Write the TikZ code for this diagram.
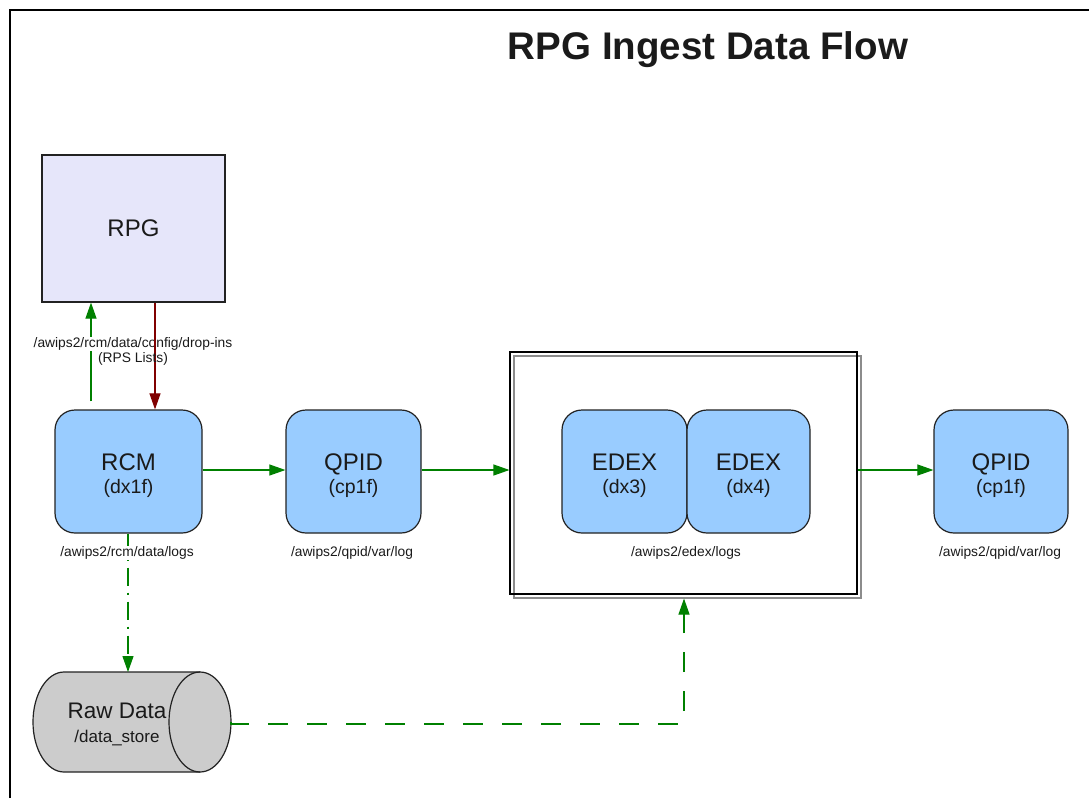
\documentclass[tikz,border=0pt]{standalone}
\usepackage{fontspec}
\setmainfont{Liberation Sans}
\usetikzlibrary{arrows.meta,calc}
\definecolor{boxblue}{HTML}{99CCFF}
\definecolor{lav}{HTML}{E6E6FA}
\definecolor{cylgray}{HTML}{CCCCCC}
\definecolor{flowgreen}{HTML}{008000}
\definecolor{flowred}{HTML}{800000}
\definecolor{outline}{HTML}{222222}
\definecolor{txt}{HTML}{1A1A1A}
\tikzset{
  blockbox/.style={draw=outline, line width=1.2pt, fill=boxblue, rounded corners=20pt,
    minimum height=123pt, align=center, inner sep=0pt, text=txt, font=\fontsize{24}{23}\selectfont},
  pathlabel/.style={font=\fontsize{13.8}{15}\selectfont, inner sep=1pt, text=txt},
  gflow/.style={draw=flowgreen, line width=1.1pt, -{Triangle[length=16pt,width=11pt]}},
  rflow/.style={draw=flowred, line width=1.1pt, -{Triangle[length=16pt,width=11pt]}},
}
\newcommand{\twolines}[2]{\rule{0pt}{25pt}#1\\{\fontsize{19.5}{23}\selectfont #2}}
\begin{document}
\begin{tikzpicture}[x=1pt,y=-1pt]
\useasboundingbox (0,0) rectangle (1089,798);
% frame
\draw[line width=1.5pt] (10,798) -- (10,10) -- (1089,10);
% title
\node[text=txt] (title) at (708,50) {\bfseries\fontsize{38.5}{42}\selectfont RPG Ingest Data Flow};
% RPG
\node[draw=outline, line width=1.2pt, fill=lav, minimum width=183pt, minimum height=147pt, text=txt, font=\fontsize{24}{26}\selectfont] (rpg) at (133.5,228.5) {RPG};
% group box
\node[draw=black!45, line width=1.1pt, minimum width=347pt, minimum height=242pt] (groupshadow) at (687.5,477) {};
\node[draw=black, line width=1.1pt, minimum width=347pt, minimum height=242pt] (group) at (683.5,473) {};
% blocks
\node[blockbox, minimum width=147pt] (rcm) at (128.5,471.5) {\twolines{RCM}{(dx1f)}};
\node[blockbox, minimum width=135pt] (qpid1) at (353.5,471.5) {\twolines{QPID}{(cp1f)}};
\node[blockbox, minimum width=125pt] (edex1) at (624.5,471.5) {\twolines{EDEX}{(dx3)}};
\node[blockbox, minimum width=123pt] (edex2) at (748.5,471.5) {\twolines{EDEX}{(dx4)}};
\node[blockbox, minimum width=134pt] (qpid2) at (1001,471.5) {\twolines{QPID}{(cp1f)}};
% path labels under blocks
\node[pathlabel] (qpid1log) at (352,553) {/awips2/qpid/var/log};
\node[pathlabel] (edexlog) at (686,553) {/awips2/edex/logs};
\node[pathlabel] (qpid2log) at (1000,553) {/awips2/qpid/var/log};
% RPG <-> RCM
\draw[gflow] ([xshift=-37.5pt,yshift=8pt]rcm.north) coordinate (g0) -- (g0 |- rpg.south);
\node[pathlabel, fill=white] (dropins) at (133,344) {/awips2/rcm/data/config/drop-ins};
\draw[rflow] ([xshift=21.5pt]rpg.south) coordinate (r0) -- (r0 |- rcm.north);
\node[pathlabel] (rps) at (133,359) {(RPS Lists)};
% horizontal flows
\draw[gflow] (rcm.east |- 0,470) -- (qpid1.west |- 0,470);
\draw[gflow] (qpid1.east |- 0,470) -- (group.west |- 0,470);
\draw[gflow] (group.east |- 0,470) -- (qpid2.west |- 0,470);
% cylinder
\fill[cylgray] (200,672) -- (64,672) arc[start angle=90,end angle=270,x radius=31pt,y radius=50pt] -- (200,772) -- cycle;
\fill[cylgray] (200,722) ellipse[x radius=31pt,y radius=50pt];
\draw[outline, line width=1.2pt] (200,672) -- (64,672) arc[start angle=90,end angle=270,x radius=31pt,y radius=50pt] -- (200,772);
\draw[outline, line width=1.2pt] (200,722) ellipse[x radius=31pt,y radius=50pt];
\node[align=center, inner sep=0pt, text=txt, font=\fontsize{22.5}{24}\selectfont] (raw) at (117,724) {Raw Data\\{\fontsize{17}{24}\selectfont /data\_store}};
\coordinate (rawtop) at (128,672);
\coordinate (rawend) at (231,722);
% RCM -> raw data (dash dot), behind log label
\draw[gflow, dash pattern=on 18pt off 7pt on 2pt off 7pt] (rcm.south -| rawtop) -- (rawtop);
\node[pathlabel, fill=white] (rcmlog) at (127,553) {/awips2/rcm/data/logs};
% raw data -> group (dashed)
\coordinate (corner) at (684,724);
\draw[gflow, dash pattern=on 20pt off 19pt] (rawend) -- (rawend |- corner) -- (corner) -- (corner |- groupshadow.south);
\end{tikzpicture}
\end{document}
